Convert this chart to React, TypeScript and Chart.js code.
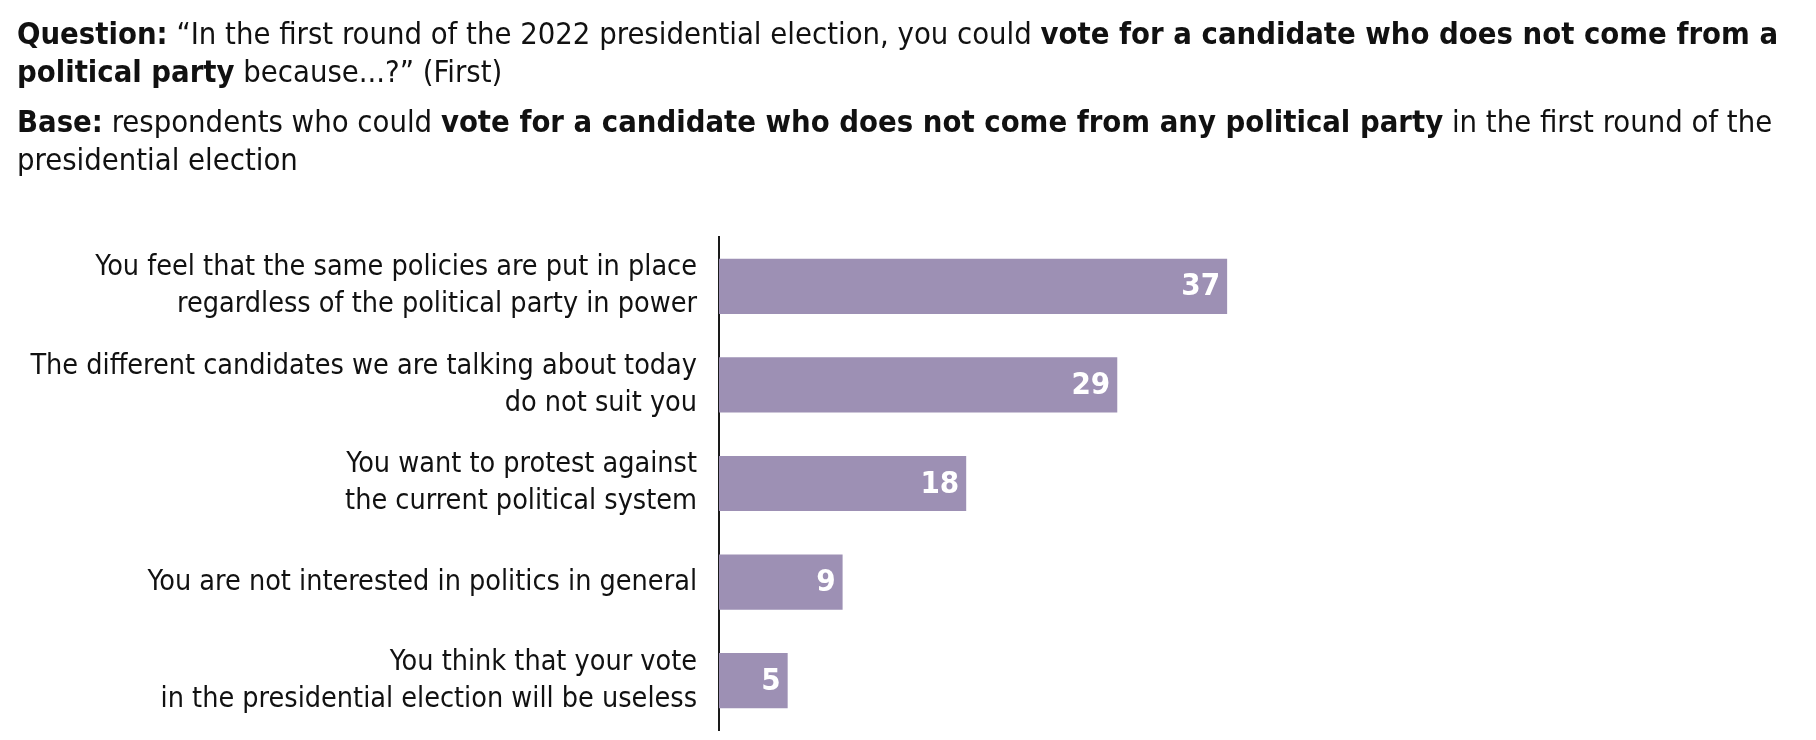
import React, { useEffect, useRef } from "react";
import { Chart, registerables } from "chart.js";

Chart.register(...registerables);

const categories: (string | string[])[] = [
  ["You feel that the same policies are put in place", "regardless of the political party in power"],
  ["The different candidates we are talking about today", "do not suit you"],
  ["You want to protest against", "the current political system"],
  "You are not interested in politics in general",
  ["You think that your vote", "in the presidential election will be useless"],
];

const values: number[] = [37, 29, 18, 9, 5];

const FONT = "'Liberation Sans Narrow', 'DejaVu Sans Condensed', 'Arial Narrow', sans-serif";
const BAR_COLOR = "#9d90b4";
const TEXT_COLOR = "#111111";

const valueLabelPlugin = {
  id: "valueLabels",
  afterDatasetsDraw(chart: any) {
    const ctx = chart.ctx;
    const meta = chart.getDatasetMeta(0);
    const data = chart.data.datasets[0].data as number[];
    ctx.save();
    ctx.fillStyle = "#ffffff";
    ctx.font = `bold 31px ${FONT}`;
    ctx.textAlign = "right";
    ctx.textBaseline = "middle";
    meta.data.forEach((bar: any, i: number) => {
      ctx.fillText(String(data[i]), bar.x - 7, bar.y + 1);
    });
    ctx.restore();
  },
};

function BarChart() {
  const ref = useRef<HTMLCanvasElement | null>(null);
  useEffect(() => {
    if (!ref.current) return;
    const chart = new Chart(ref.current, {
      type: "bar",
      data: {
        labels: categories,
        datasets: [
          {
            data: values,
            backgroundColor: BAR_COLOR,
            borderWidth: 0,
            barPercentage: 0.56,
            categoryPercentage: 1,
          },
        ],
      },
      options: {
        indexAxis: "y",
        animation: false,
        responsive: false,
        maintainAspectRatio: false,
        devicePixelRatio: 1,
        layout: { padding: { top: 229, bottom: 2, left: 0, right: 265 } },
        plugins: {
          legend: { display: false },
          tooltip: { enabled: false },
          title: { display: false },
        },
        scales: {
          x: {
            display: false,
            min: 0,
            max: 60,
            grid: { display: false },
          },
          y: {
            afterFit(scale: any) {
              scale.width = 711;
              scale.paddingTop = 0;
              scale.paddingBottom = 0;
            },
            grid: { display: false, drawTicks: false },
            border: { display: true, color: "#1a1a1a", width: 2 },
            ticks: {
              padding: 22,
              color: TEXT_COLOR,
              font: { family: FONT, size: 28.5, lineHeight: 1.3 },
            },
          },
        },
      },
      plugins: [valueLabelPlugin],
    });
    return () => chart.destroy();
  }, []);
  return (
    <canvas
      ref={ref}
      width={1800}
      height={724}
      style={{ position: "absolute", left: 0, top: 0, width: 1800, height: 724 }}
    />
  );
}

export default function App() {
  const lineStyle: React.CSSProperties = { whiteSpace: "nowrap" };
  return (
    <div style={{ position: "relative", width: 1800, height: 724, fontFamily: FONT, color: TEXT_COLOR }}>
      <div style={{ position: "absolute", left: 9, top: 7, fontSize: 30.7, lineHeight: "38px", zIndex: 1 }}>
        <div style={lineStyle}>
          <b>Question:</b> “In the first round of the 2022 presidential election, you could{" "}
          <b>vote for a candidate who does not come from a</b>
        </div>
        <div style={lineStyle}>
          <b>political party</b> because...?” (First)
        </div>
        <div style={{ ...lineStyle, marginTop: 11.5 }}>
          <b>Base:</b> respondents who could{" "}
          <b>vote for a candidate who does not come from any political party</b> in the first round of the
        </div>
        <div style={lineStyle}>presidential election</div>
      </div>
      <BarChart />
    </div>
  );
}
